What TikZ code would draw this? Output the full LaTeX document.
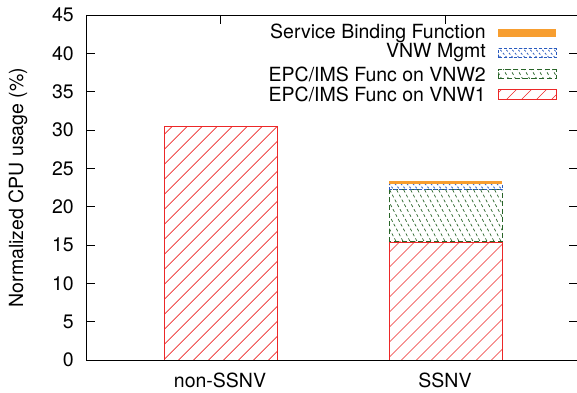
\documentclass[tikz,border=0pt]{standalone}
\usepackage{fontspec}
\setmainfont{TeX Gyre Heros}

\definecolor{vnwone}{RGB}{236,40,40}
\definecolor{vnwtwo}{RGB}{40,100,40}
\definecolor{mgmt}{RGB}{40,90,190}
\definecolor{binding}{RGB}{247,158,48}

% data value -> vertical position (0 sits on y=32, 45 on the top frame)
\newcommand{\yy}[1]{32+7.667*#1}

% clipped box of parallel lines: x1, y1, x2, y2, spacing, angle, line style
\newcommand{\hatchbox}[7]{%
  \begin{scope}
    \clip ({#1},{#2}) rectangle ({#3},{#4});
    \foreach \k in {-40,...,40}
      \draw[#7] ({(#1+#3)/2+\k*#5},{(#2+#4)/2}) ++(#6+180:200) -- ++(#6:400);
  \end{scope}}

\begin{document}
\begin{tikzpicture}[x=1pt,y=1pt,font=\fontsize{19.5}{23}\selectfont]
    \useasboundingbox (0,0) rectangle (577,392);
    \clip (0,0) rectangle (577,392);

    % Bars (hatching first, outlines on top)
    \hatchbox{164}{\yy{0}}{277}{\yy{30.5}}{15}{45}{vnwone, line width=0.6pt}
    \draw[vnwone, line width=0.8pt] (164,{\yy{0}}) rectangle (277,{\yy{30.5}});

    \hatchbox{389}{\yy{0}}{502}{\yy{15.4}}{15}{45}{vnwone, line width=0.6pt}
    \draw[vnwone, line width=0.8pt] (389,{\yy{0}}) rectangle (502,{\yy{15.4}});

    \hatchbox{389}{\yy{15.4}}{502}{\yy{22.2}}{7}{-62}{vnwtwo, line width=0.7pt, dash pattern=on 3pt off 2.5pt}
    \draw[vnwtwo, line width=0.9pt, dash pattern=on 5pt off 3pt] (389,{\yy{15.4}}) rectangle (502,{\yy{22.2}});

    \hatchbox{389}{\yy{22.2}}{502}{\yy{23.0}}{6}{-50}{mgmt, line width=0.8pt, dash pattern=on 2pt off 2pt}
    \draw[mgmt, line width=0.9pt, dash pattern=on 3pt off 2pt] (389,{\yy{22.2}}) rectangle (502,{\yy{23.0}});

    \fill[binding] (389,{\yy{23.0}}) rectangle (502,{\yy{23.35}});

    % Frame and ticks
    \draw[line width=0.9pt] (86,{\yy{45}}) -- (86,{\yy{0}}) -- (580,{\yy{0}});
    \draw[line width=0.9pt] (86,{\yy{45}}) -- (580,{\yy{45}});
    \foreach \v in {0,5,...,45} {
        \draw[line width=0.8pt] (86,{\yy{\v}}) -- ++(9,0);
        \draw[line width=0.8pt] (578,{\yy{\v}}) -- ++(-9,0);
        \node[anchor=east, inner sep=0pt] (tick\v) at (74,{\yy{\v}}) {\v};
    }
    \draw[line width=0.8pt] (220,{\yy{45}}) -- ++(0,-9);
    \draw[line width=0.8pt] (445,{\yy{45}}) -- ++(0,-9);

    % Axis labels
    \node[rotate=90] (ylabel) at (18,{\yy{22.5}}) {Normalized CPU usage (\%)};
    \node (nonssnv) at (220,12) {non-SSNV};
    \node (ssnv) at (445,12) {SSNV};

    % Key
    \node[anchor=east, inner sep=0pt] (keybind) at (486,359) {Service Binding Function};
    \node[anchor=east, inner sep=0pt] (keymgmt) at (486,339) {VNW Mgmt};
    \node[anchor=east, inner sep=0pt] (keytwo) at (486,318) {EPC/IMS Func on VNW2};
    \node[anchor=east, inner sep=0pt] (keyone) at (486,298) {EPC/IMS Func on VNW1};

    \fill[binding] (498,355) rectangle (556,363);
    \hatchbox{498}{334.5}{556}{343.5}{6}{-50}{mgmt, line width=0.8pt, dash pattern=on 2pt off 2pt}
    \draw[mgmt, line width=0.9pt, dash pattern=on 3pt off 2pt] (498,334.5) rectangle (556,343.5);
    \hatchbox{498}{313.5}{556}{322.5}{7}{-62}{vnwtwo, line width=0.7pt, dash pattern=on 3pt off 2.5pt}
    \draw[vnwtwo, line width=0.9pt, dash pattern=on 5pt off 3pt] (498,313.5) rectangle (556,322.5);
    \hatchbox{498}{293}{556}{303}{15}{45}{vnwone, line width=0.6pt}
    \draw[vnwone, line width=0.8pt] (498,293) rectangle (556,303);
\end{tikzpicture}
\end{document}
